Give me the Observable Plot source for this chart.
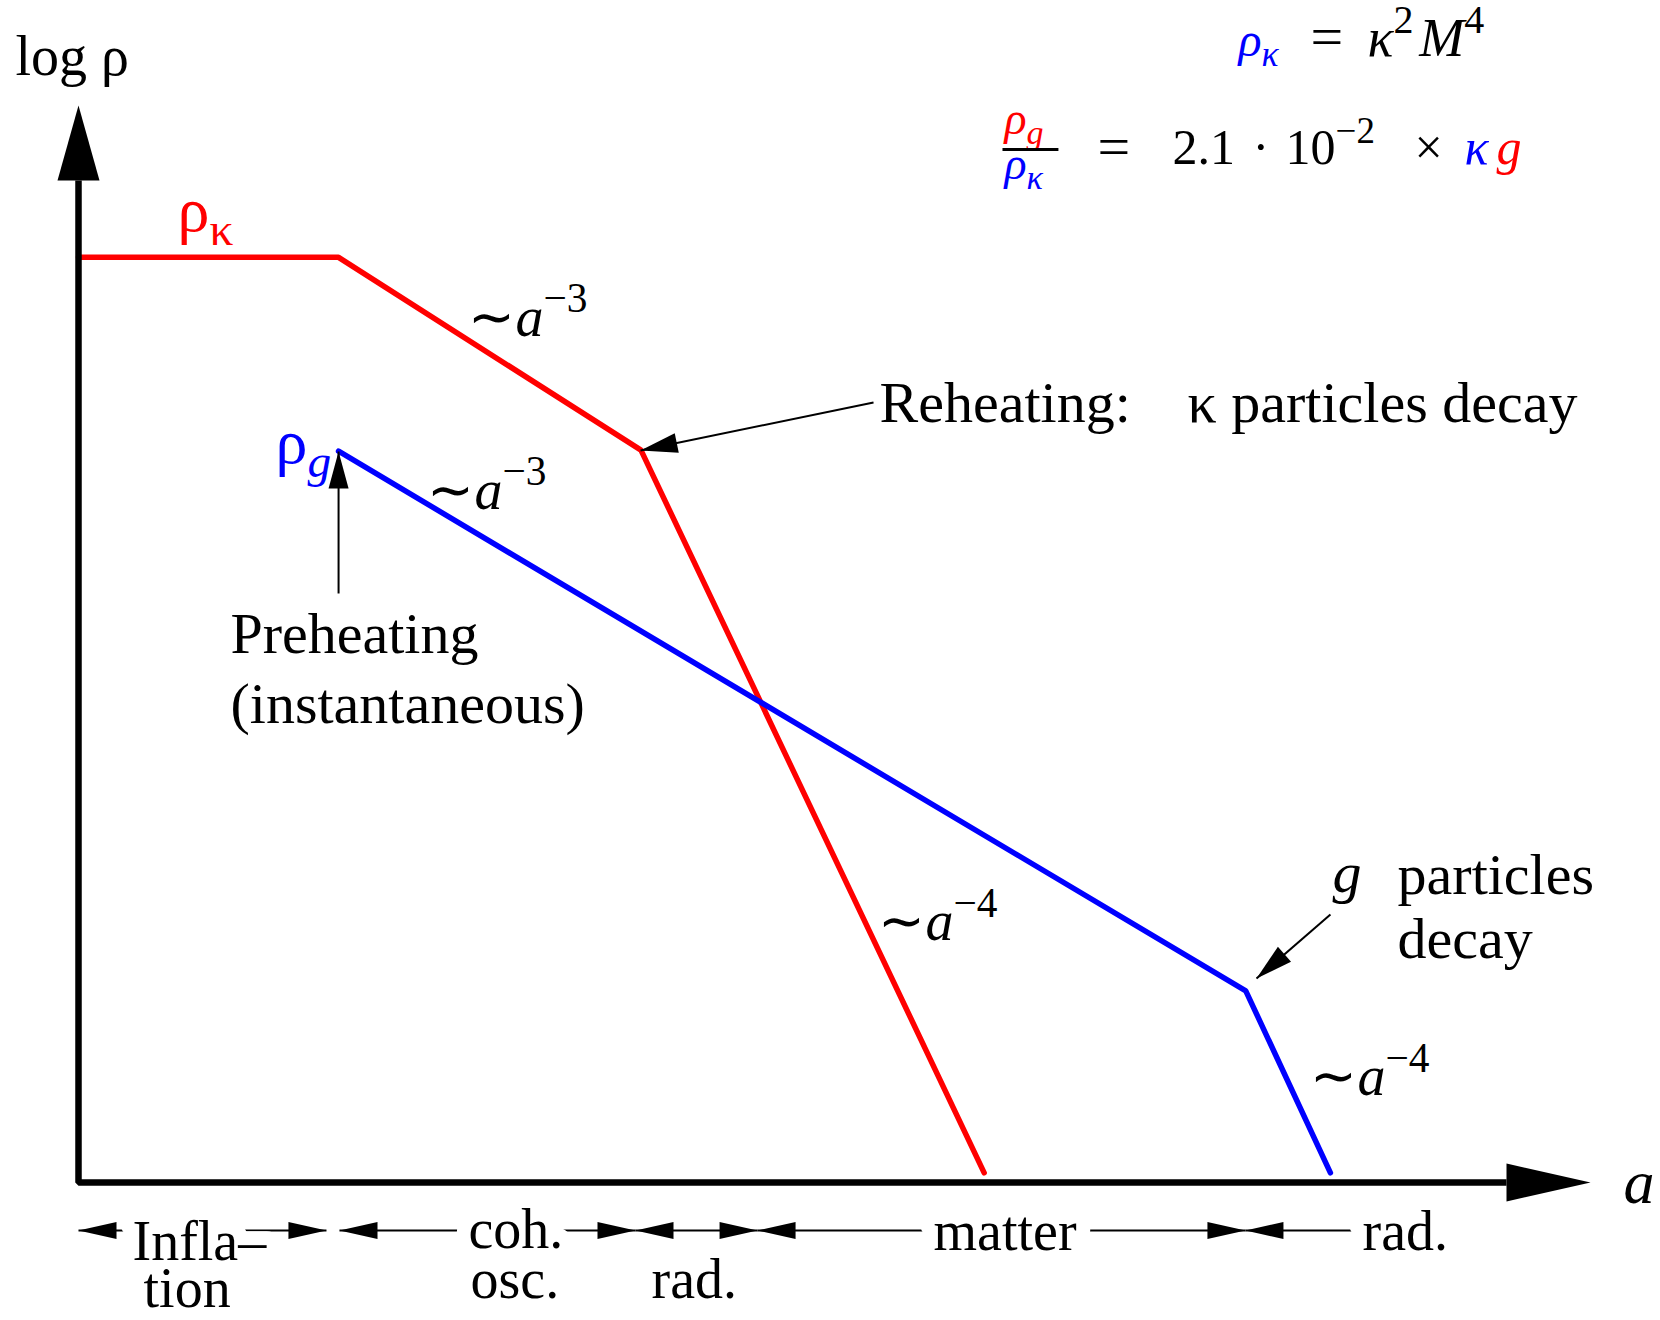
<!DOCTYPE html>
<html>
<head>
<meta charset="utf-8">
<script src="https://cdn.jsdelivr.net/npm/d3@7"></script>
<script src="https://cdn.jsdelivr.net/npm/@observablehq/plot@0.6"></script>
<style>
  html, body { margin: 0; padding: 0; background: #fff; }
  #chart { width: 1660px; height: 1320px; }
</style>
</head>
<body>
<div id="chart"></div>
<script>
// ---------------- DATA (x = log a, y = log ρ, arbitrary units) ----------------
// ρ_κ : inflaton energy density, break points
const kappaLogA   = [0, 1.72, 3.72, 5.99];
const kappaLogRho = [8.59, 8.59, 6.80, 0.09];
// ρ_g : energy density of g particles, break points
const gLogA   = [1.72, 7.72, 8.28];
const gLogRho = [6.79, 1.78, 0.09];

// Epochs along the a axis (start / end in log a; null = open)
const epochStart = [0, 1.726, 3.684, 4.491, 7.718];
const epochEnd   = [1.640, 3.684, 4.491, 7.718, null];

// Epoch labels: first text line (on the arrow row) and second text line
const epochText1 = ["Infla–", "coh.", "matter", "rad."];
const epochX1    = [0.357, 2.579, 5.655, 8.492];
const epochY1    = [-0.724, -0.604, -0.631, -0.631];
const epochText2 = ["tion", "osc.", "rad."];
const epochX2    = [0.430, 2.593, 3.790];
const epochY2    = [-1.160, -1.068, -1.068];
const epochRowY  = -0.446;

// Slope labels
const slopeText = ["∼*a*^{−3}", "∼*a*^{−3}", "∼*a*^{−4}", "∼*a*^{−4}"];
const slopeX    = [2.579, 2.308, 5.291, 8.148];
const slopeY    = [7.864, 6.258, 2.247, 0.808];

// Curve name labels
const curveText = ["ρ_{κ}", "ρ_{*g*}"];
const curveX    = [0.655, 1.303];
const curveY    = [8.839, 6.685];

// Black annotation texts
const noteText = ["Reheating:", "κ particles decay", "Preheating", "(instantaneous)", "particles", "decay"];
const noteX    = [5.298, 7.335, 1.005, 1.005, 8.724, 8.724];
const noteY    = [7.057, 7.057, 4.921, 4.262, 2.683, 2.080];
const gNote = "*g*", gNoteX = 8.294, gNoteY = 2.693;

// Annotation arrows (from text to feature)
const arrowFromX = [5.258, 1.720, 8.280];
const arrowFromY = [7.242, 5.469, 2.488];
const arrowToX   = [3.717, 1.720, 7.791];
const arrowToY   = [6.797, 6.787, 1.894];

// Formula 1 (top right):  ρκ = κ² M⁴
const f1Text = ["*ρ*_{*κ*}", "=", "*κ*^{2}", "*M*^{4}"];
const f1X    = [7.672, 8.148, 8.525, 8.868];
const f1Y    = [10.464, 10.464, 10.464, 10.464];
// Formula 2:  ρg/ρκ = 2.1 · 10⁻² × κ g   (@r red, @b blue, | new line)
const f2Frac = "@r*ρ*_{*g*}|@b*ρ*_{*κ*}";
const f2FracX = 6.124, f2FracY = 9.740;
const f2BarX = [6.111, 6.481], f2BarY = 9.591;
const f2Text = ["=", "2.1", "·", "10^{−2}", "×", "@b*κ*", "@r*g*"];
const f2X    = [6.739, 7.235, 7.765, 7.983, 8.836, 9.167, 9.378];
const f2Y    = [9.434, 9.461, 9.461, 9.461, 9.461, 9.461, 9.461];

// Axis labels
const yLabel = "log ρ", yLabelX = -0.417, yLabelY = 10.279;
const xLabel = "*a*",   xLabelX = 10.218, xLabelY = -0.186;

// ---------------- LAYOUT ----------------
const W = 1660, H = 1320;
const M = {left: 78, right: 70, top: 105, bottom: 138};
const xDomain = [0, 10], yDomain = [0, 10];
const kx = (W - M.left - M.right) / (xDomain[1] - xDomain[0]);
const ky = (H - M.top - M.bottom) / (yDomain[1] - yDomain[0]);
const SERIF = "'Liberation Serif', 'Times New Roman', Times, serif";
const RED = "#ff0000", BLUE = "#0000ff";

const kappa = kappaLogA.map((x, i) => ({x, y: kappaLogRho[i]}));
const gser  = gLogA.map((x, i) => ({x, y: gLogRho[i]}));

const yArrowLen = 75, xArrowLen = 84;
const axisPath = [
  {x: xDomain[0], y: yDomain[1] - yArrowLen / ky},
  {x: xDomain[0], y: yDomain[0]},
  {x: xDomain[1] - xArrowLen / kx, y: yDomain[0]}
];

const angle = (x1, y1, x2, y2) => Math.atan2((x2 - x1) * kx, (y2 - y1) * ky) * 180 / Math.PI;
const arrows = arrowFromX.map((x1, i) => ({
  x1, y1: arrowFromY[i], x2: arrowToX[i], y2: arrowToY[i],
  rot: angle(x1, arrowFromY[i], arrowToX[i], arrowToY[i])
}));

const epochLines = epochStart.map((s, i) => ({
  x1: s, x2: epochEnd[i] ?? epochX1[epochX1.length - 1], y: epochRowY
}));
const epochLeftHeads = epochStart.map(s => ({x: s, y: epochRowY}));
const epochRightHeads = epochEnd.filter(e => e != null).map(e => ({x: e, y: epochRowY}));

const rows = (texts, xs, ys) => texts.map((t, i) => ({t, x: xs[i], y: ys[i]}));
const pick = (texts, xs, ys, a, b) => rows(texts.slice(a, b), xs.slice(a, b), ys.slice(a, b));
const txt = (data, o = {}) => Plot.text(data, {
  x: "x", y: "y", text: "t", textAnchor: "start", lineAnchor: "bottom",
  fontFamily: SERIF, fontSize: 58, fill: "black", ...o
});
const head = (data, o) => Plot.vector(data, {
  x: "x", y: "y", shape: "spike", anchor: "end", fill: "black", stroke: "none", ...o
});

const chart = Plot.plot({
  width: W, height: H,
  marginLeft: M.left, marginRight: M.right, marginTop: M.top, marginBottom: M.bottom,
  x: {domain: xDomain, axis: null},
  y: {domain: yDomain, axis: null},
  style: {fontFamily: SERIF, background: "white", overflow: "visible"},
  marks: [
    // curves
    Plot.line(kappa, {x: "x", y: "y", stroke: RED, strokeWidth: 5.5, strokeLinejoin: "miter"}),
    Plot.line(gser, {x: "x", y: "y", stroke: BLUE, strokeWidth: 5.5, strokeLinejoin: "miter"}),
    // axes
    Plot.line(axisPath, {x: "x", y: "y", stroke: "black", strokeWidth: 6.5, strokeLinejoin: "miter", strokeLinecap: "butt"}),
    head([{x: xDomain[0], y: yDomain[1]}], {length: yArrowLen, r: 21, rotate: 0}),
    head([{x: xDomain[1], y: yDomain[0]}], {length: xArrowLen, r: 19, rotate: 90}),
    // annotation arrows
    Plot.link(arrows, {x1: "x1", y1: "y1", x2: "x2", y2: "y2", stroke: "black", strokeWidth: 2}),
    Plot.vector(arrows, {x: "x2", y: "y2", rotate: "rot", shape: "spike", anchor: "end",
      length: 37, r: 10, fill: "black", stroke: "none"}),
    // epoch dimension lines
    Plot.link(epochLines, {x1: "x1", x2: "x2", y1: "y", y2: "y", stroke: "black", strokeWidth: 2}),
    txt(rows(epochText1, epochX1, epochY1), {fontSize: 56, stroke: "white", strokeWidth: 28, paintOrder: "stroke", strokeLinejoin: "round"}),
    txt(rows(epochText2, epochX2, epochY2), {fontSize: 56}),
    head(epochLeftHeads, {length: 38, r: 8.5, rotate: -90}),
    head(epochRightHeads, {length: 38, r: 8.5, rotate: 90}),
    // labels
    txt(rows(slopeText, slopeX, slopeY), {fontSize: 56}),
    txt(pick(curveText, curveX, curveY, 0, 1), {fill: RED, fontSize: 64}),
    txt(pick(curveText, curveX, curveY, 1, 2), {fill: BLUE, fontSize: 64}),
    txt(rows(noteText, noteX, noteY)),
    txt([{t: gNote, x: gNoteX, y: gNoteY}]),
    txt([{t: yLabel, x: yLabelX, y: yLabelY}], {fontSize: 56}),
    txt([{t: xLabel, x: xLabelX, y: xLabelY}], {fontSize: 62}),
    // formula 1
    txt(pick(f1Text, f1X, f1Y, 0, 1), {fill: BLUE, fontSize: 48}),
    txt(pick(f1Text, f1X, f1Y, 1, 2), {fontSize: 58}),
    txt(pick(f1Text, f1X, f1Y, 2, 4), {fontSize: 54}),
    // formula 2
    txt([{t: f2Frac, x: f2FracX, y: f2FracY}], {fontSize: 46}),
    Plot.link([{x1: f2BarX[0], x2: f2BarX[1], y: f2BarY}], {x1: "x1", x2: "x2", y1: "y", y2: "y", stroke: "black", strokeWidth: 3}),
    txt(pick(f2Text, f2X, f2Y, 0, 1), {fontSize: 58}),
    txt(pick(f2Text, f2X, f2Y, 1, 5), {fontSize: 50}),
    txt(pick(f2Text, f2X, f2Y, 5, 7), {fontSize: 50})
  ]
});
document.getElementById("chart").appendChild(chart);

// Tiny markup -> tspans: *italic*, _{sub}, ^{sup}, @r/@b/@k colour, | new line
const NS = "http://www.w3.org/2000/svg";
const COLORS = {r: RED, b: BLUE, k: null};
function richText(el) {
  const src = el.textContent;
  if (!/[*|@]|[_^]\{/.test(src)) return;
  const fs = parseFloat(getComputedStyle(el).fontSize);
  el.textContent = "";
  let cur = 0, color = null, newline = false;
  const emit = (str, shift, scale) => {
    str.split("*").forEach((p, k) => {
      if (!p) return;
      const ts = document.createElementNS(NS, "tspan");
      ts.textContent = p;
      if (k % 2 === 1) ts.setAttribute("font-style", "italic");
      if (scale !== 1) ts.setAttribute("font-size", (fs * scale).toFixed(1));
      if (color) ts.setAttribute("fill", color);
      let d = shift - cur;
      if (newline) { ts.setAttribute("x", "0"); d += 0.98 * fs; newline = false; }
      if (d) ts.setAttribute("dy", d.toFixed(1));
      cur = shift;
      el.appendChild(ts);
    });
  };
  const re = /([_^])\{([^}]*)\}|\||@([rbk])/g;
  let last = 0, m;
  while ((m = re.exec(src))) {
    emit(src.slice(last, m.index), 0, 1);
    if (m[1]) emit(m[2], m[1] === "_" ? 0.22 * fs : -0.42 * fs, 0.74);
    else if (m[0] === "|") newline = true;
    else color = COLORS[m[3]];
    last = re.lastIndex;
  }
  emit(src.slice(last), 0, 1);
}
chart.querySelectorAll("text").forEach(richText);
</script>
</body>
</html>
